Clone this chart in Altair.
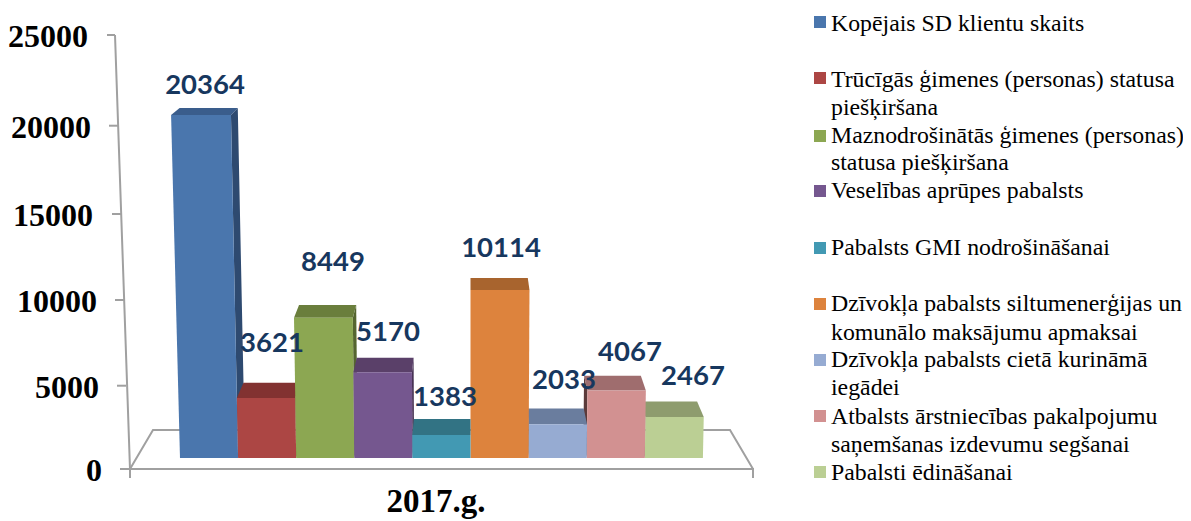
import altair as alt
import pandas as pd

# ---- chart values ----
CATEGORIES = ["Kopējais SD klientu skaits", "Trūcīgās ģimenes (personas) statusa piešķiršana",
              "Maznodrošinātās ģimenes (personas) statusa piešķiršana", "Veselības aprūpes pabalsts",
              "Pabalsts GMI nodrošināšanai", "Dzīvokļa pabalsts siltumenerģijas un komunālo maksājumu apmaksai",
              "Dzīvokļa pabalsts cietā kurināmā iegādei", "Atbalsts ārstniecības pakalpojumu saņemšanas izdevumu segšanai",
              "Pabalsti ēdināšanai"]
VALUES = [20364, 3621, 8449, 5170, 1383, 10114, 2033, 4067, 2467]
TICKS = [0, 5000, 10000, 15000, 20000, 25000]
AXIS_TITLE = "2017.g."

# ---- styles ----
FRONT = ["#4a76ad", "#ac4644", "#8ca752", "#75578f", "#4299b3", "#dd833d", "#96abd2", "#d29191", "#bbcf94"]
TOP = ["#3a5d8c", "#823231", "#6a7e3c", "#5a4069", "#327384", "#a8642e", "#6a7d9e", "#9f6d6e", "#8e9c6e"]
SIDE = ["#2e4a70", "#6e2a29", "#55652f", "#483355", "#285c6a", "#864f25", "#55647e", "#5b3a3a", "#717d58"]

# ---- layout (page px) ----
W, H = 1175, 513
X0, SLOT, Y0 = 180.0, 58.1, 458.0
K_LOW, K_HIGH, K_KNOT = 0.0166, 0.01708, 10000   # perspective: value axis stretches upwards
VX, VY, DEPTH, LEAN = 470.0, -130.0, 0.0285, 0.0000897
LABEL_X = [205, 272, 333, 388, 445, 501, 564, 630, 693]
LABEL_Y = [86, 344, 263, 333, 398, 249, 381, 353, 377]
TICK_Y = [469, 385.7, 300, 214, 125.7, 35]
TICK_L = [120, 117, 115, 112, 109, 107]
TICK_R = [130, 126, 124, 121, 118, 115]
TICK_LABEL_R = [102, 99, 97, 93, 91, 88]
AXIS_X = [115, 130, 130]
AXIS_Y = [35, 469, 478]
FLOOR_X = [130, 153, 730, 753, 753, 753, 130]
FLOOR_Y = [469, 430, 430, 469, 478, 469, 469]
LEGEND_SWATCH_Y = [22, 78, 136, 191, 248, 304, 360, 416, 472]
LEGEND_LINES = [
    ("Kopējais SD klientu skaits", 24), ("Trūcīgās ģimenes (personas) statusa", 80), ("piešķiršana", 108),
    ("Maznodrošinātās ģimenes (personas)", 136), ("statusa piešķiršana", 163), ("Veselības aprūpes pabalsts", 191),
    ("Pabalsts GMI nodrošināšanai", 248), ("Dzīvokļa pabalsts siltumenerģijas un", 304),
    ("komunālo maksājumu apmaksai", 333), ("Dzīvokļa pabalsts cietā kurināmā", 360), ("iegādei", 388),
    ("Atbalsts ārstniecības pakalpojumu", 417), ("saņemšanas izdevumu segšanai", 445), ("Pabalsti ēdināšanai", 473),
]
SERIF = "Liberation Serif"


def to_slot(px):
    return (px - X0) / SLOT


def height_of(v):
    if v <= K_KNOT:
        return v * K_LOW
    return K_KNOT * K_LOW + (v - K_KNOT) * K_HIGH


def to_val(py):
    h = Y0 - py
    knot_h = K_KNOT * K_LOW
    if h <= knot_h:
        return h / K_LOW
    return K_KNOT + (h - knot_h) / K_HIGH


def project(slot, val, back=False):
    h = height_of(val)
    px = X0 + slot * SLOT
    py = Y0 - h
    px += h * LEAN * (px - VX)
    if back:
        px, py = px + (VX - px) * DEPTH, py - (py - VY) * DEPTH
    return px, py


def lerp(p, q, yy):
    t = (yy - p[1]) / (q[1] - p[1])
    return p[0] + t * (q[0] - p[0])


px_x = lambda v: v - 8
px_y = lambda v: v - 8
XS = alt.Scale(domain=[to_slot(8), to_slot(8 + W)], range=[0, W])
YS = alt.Scale(domain=[to_val(8 + H), 0, K_KNOT, to_val(8)],
               range=[H, px_y(Y0), px_y(Y0 - height_of(K_KNOT)), 0])
XN = alt.X("x:Q", scale=None, axis=None)
YN = alt.Y("y:Q", scale=None, axis=None)


def face(color, rows):
    df = pd.DataFrame([dict(ord=n, x=to_slot(a), x2=to_slot(b), y=to_val(yy))
                       for n, (yy, a, b) in enumerate(rows)])
    return alt.Chart(df).mark_area(orient="horizontal", interpolate="linear", color=color, opacity=1).encode(
        x=alt.X("x:Q", scale=XS, axis=None), x2="x2:Q", y=alt.Y("y:Q", scale=YS, axis=None))


# painter's order: bars furthest from the vanishing point first
order = sorted(range(len(VALUES)), key=lambda i: -abs(X0 + (i + 0.5) * SLOT - VX))
face_layers = []
for i in order:
    v = VALUES[i]
    fl, fr = project(i, v), project(i + 1, v)
    bl, br = project(i, v, True), project(i + 1, v, True)
    fl0, fr0 = project(i, 0), project(i + 1, 0)
    left_side = fl0[0] > VX
    a, b = (fl, bl) if left_side else (fr, br)
    a0, b0 = (fl0, project(i, 0, True)) if left_side else (fr0, project(i + 1, 0, True))
    if abs(a[0] - b[0]) > 1.5:
        ea, eb = lerp(a, a0, b0[1]), lerp(b, b0, a[1])
        face_layers.append(face(SIDE[i], [
            (b[1], b[0], b[0]),
            (a[1], min(a[0], eb), max(a[0], eb)),
            (b0[1], min(ea, b0[0]), max(ea, b0[0])),
            (a0[1], a0[0], a0[0]),
        ]))
    face_layers.append(face(TOP[i], [(bl[1], bl[0], br[0]), (fl[1], fl[0], fr[0])]))
    face_layers.append(face(FRONT[i], [(fl[1], fl[0], fr[0]), (fl0[1], fl0[0], fr0[0])]))

floor = alt.Chart(pd.DataFrame({"x": [px_x(a) for a in FLOOR_X], "y": [px_y(a) for a in FLOOR_Y],
                                "o": list(range(len(FLOOR_X)))})).mark_line(
    color="#a0a0a0", strokeWidth=2, interpolate="linear").encode(x=XN, y=YN, order="o:Q")
axis_line = alt.Chart(pd.DataFrame({"x": [px_x(a) for a in AXIS_X], "y": [px_y(a) for a in AXIS_Y],
                                    "o": list(range(len(AXIS_X)))})).mark_line(
    color="#a0a0a0", strokeWidth=2).encode(x=XN, y=YN, order="o:Q")

TICK_SCALE = alt.Scale(domain=TICKS, range=[px_y(a) for a in TICK_Y])
tick_df = pd.DataFrame({"v": TICKS, "l": [px_x(a) for a in TICK_L], "r": [px_x(a) for a in TICK_R],
                        "tx": [px_x(a) for a in TICK_LABEL_R], "t": [str(a) for a in TICKS]})
tick_rules = alt.Chart(tick_df).mark_rule(color="#a0a0a0", strokeWidth=2).encode(
    x=alt.X("l:Q", scale=None, axis=None), x2="r:Q", y=alt.Y("v:Q", scale=TICK_SCALE, axis=None))
tick_text = alt.Chart(tick_df).mark_text(font=SERIF, fontSize=32, fontWeight="bold", color="black",
                                         align="right", baseline="middle", dy=2).encode(
    x=alt.X("tx:Q", scale=None, axis=None), y=alt.Y("v:Q", scale=TICK_SCALE, axis=None), text="t:N")

label_df = pd.DataFrame({"x": [to_slot(a) for a in LABEL_X], "y": [to_val(a) for a in LABEL_Y],
                         "t": [str(a) for a in VALUES]})
labels = alt.Chart(label_df).mark_text(font="Lato", fontSize=27.5, fontWeight="bold", color="#17375e",
                                       baseline="middle").encode(
    x=alt.X("x:Q", scale=XS, axis=None), y=alt.Y("y:Q", scale=YS, axis=None), text="t:N")

swatch_df = pd.DataFrame({"x": [px_x(820)] * len(FRONT), "y": [px_y(a) for a in LEGEND_SWATCH_Y], "c": FRONT})
swatches = alt.Chart(swatch_df).mark_square(size=144, opacity=1).encode(
    x=XN, y=YN, fill=alt.Fill("c:N", scale=None))
legend_df = pd.DataFrame({"x": [px_x(831)] * len(LEGEND_LINES), "y": [px_y(b) for _, b in LEGEND_LINES],
                          "t": [a for a, _ in LEGEND_LINES]})
legend_text = alt.Chart(legend_df).mark_text(font=SERIF, fontSize=23.8, color="black", align="left",
                                             baseline="middle").encode(x=XN, y=YN, text="t:N")
title_df = pd.DataFrame({"x": [px_x(436)], "y": [px_y(502)], "t": [AXIS_TITLE]})
title = alt.Chart(title_df).mark_text(font=SERIF, fontSize=33, fontWeight="bold", color="black",
                                      baseline="middle").encode(x=XN, y=YN, text="t:N")

chart = alt.layer(floor, axis_line, tick_rules, tick_text, *face_layers, labels, swatches, legend_text, title).resolve_scale(
    x="independent", y="independent", fill="independent").properties(
    width=W, height=H, padding=0, autosize=alt.AutoSizeParams(type="none")).configure_view(stroke=None)

chart.save("out.html", embed_options={"renderer": "svg", "actions": False})
